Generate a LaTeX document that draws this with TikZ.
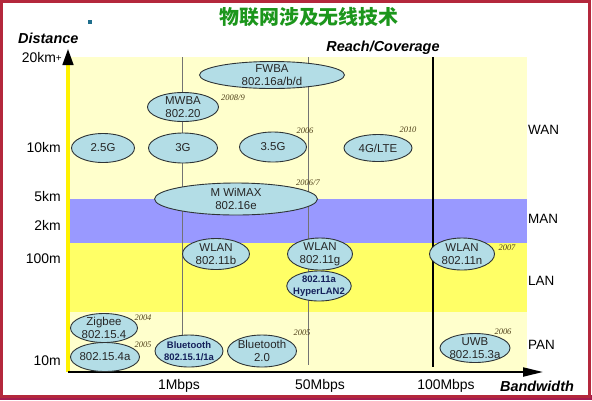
\documentclass[tikz,border=0pt]{standalone}
\usepackage{fontspec}
\setmainfont{Liberation Sans}
\newfontfamily\cjkfont{Noto Sans CJK SC}
\newfontfamily\yearfont{Liberation Serif}
\usepackage{tikz}
\usetikzlibrary{arrows.meta,shapes.geometric}
\definecolor{wanyel}{HTML}{FFFFCC}
\definecolor{manblue}{HTML}{9999FF}
\definecolor{lanyel}{HTML}{FFFF66}
\definecolor{ovalfill}{HTML}{B3DDE6}
\definecolor{ovaldraw}{HTML}{2E3436}
\definecolor{titlegreen}{HTML}{1C961C}
\definecolor{yearbrown}{HTML}{4E3F18}
\definecolor{framered}{HTML}{B4283C}
\definecolor{bulletblue}{HTML}{1F6E8C}
\definecolor{btnavy}{HTML}{14205A}
\tikzset{
	tech/.style={draw=ovaldraw, ellipse, fill=ovalfill, line width=0.9pt, inner sep=-3pt,
		align=center, text=black!85, font=\fontsize{11.5}{13.5}\selectfont},
	techbf/.style={tech, text=btnavy, font=\bfseries\fontsize{9.5}{11.5}\selectfont},
	yr/.style={inner sep=0pt, text=yearbrown, font=\yearfont\itshape\fontsize{8.5}{9}\selectfont},
	dist/.style={anchor=east, inner sep=0pt, font=\fontsize{14}{14}\selectfont},
	zone/.style={anchor=west, inner sep=0pt, font=\fontsize{13.5}{14}\selectfont},
	rate/.style={inner sep=0pt, font=\fontsize{14}{14}\selectfont},
	axttl/.style={inner sep=0pt, font=\bfseries\itshape\fontsize{14.5}{15}\selectfont},
	rateline/.style={draw=black!55, line width=0.8pt},
}

\begin{document}
\begin{tikzpicture}[x=1bp, y=-1bp]
	\useasboundingbox (0,0) rectangle (592,400);
	% slide frame
	\fill[white] (0,0) rectangle (592,400);
	\fill[framered!70!violet] (0,395) rectangle (592,400);
	\draw[framered, line width=3bp] (1.5,1.5) rectangle (589.5,396);
	\node[fill=bulletblue, minimum size=4bp, inner sep=0pt] at (90,22) (dot) {};
	\node[font=\cjkfont\bfseries\fontsize{20}{20}\selectfont, text=titlegreen] at (309,17) (title) {物联网涉及无线技术};
	% coverage bands
	\fill[wanyel] (68,57) rectangle (527,199);
	\fill[manblue] (68,199) rectangle (527,243);
	\fill[lanyel] (68,243) rectangle (527,312);
	\fill[wanyel] (68,312) rectangle (527,372);
	% axes
	\coordinate (O) at (68,372);
	\coordinate (ytip) at (68,48);
	\coordinate (xtip) at (543,372);
	\draw[line width=4bp, draw=yellow, -{Triangle[length=17bp, width=10bp, color=black]}] (O) -- (ytip);
	\draw[line width=2bp, -{Triangle[length=20bp, width=9bp]}] (O) -- (xtip);
	% bandwidth lines
	\coordinate (m1top) at (182,57);
	\coordinate (m1end) at (182,340);
	\coordinate (m50top) at (308,57);
	\coordinate (m50end) at (308,365);
	\coordinate (m100top) at (433,57);
	\coordinate (m100end) at (433,367);
	\draw[rateline] (m1top) -- (m1end);
	\draw[rateline] (m50top) -- (m50end);
	\draw[line width=1.5bp] (m100top) -- (m100end);
	% axis titles
	\node[axttl, anchor=west] at (18,38) (ydist) {Distance};
	\node[axttl] at (383,48) (reach) {Reach/Coverage};
	\node[axttl] at (537,386) (bw) {Bandwidth};
	% distance labels
	\node[dist] at (62,58) (d20) {20km\raisebox{1bp}{\fontsize{10}{10}\selectfont+}};
	\node[dist] at (61,148) (d10) {10km};
	\node[dist] at (61,197) (d5) {5km};
	\node[dist] at (61,225) (d2) {2km};
	\node[dist] at (61,259) (d100m) {100m};
	\node[dist] at (61,361) (d10m) {10m};
	% network classes
	\node[zone] at (528,130) (wan) {WAN};
	\node[zone] at (528,219) (man) {MAN};
	\node[zone] at (528,281) (lan) {LAN};
	\node[zone] at (528,345) (pan) {PAN};
	% rates
	\node[rate] at (179,386) (r1) {1Mbps};
	\node[rate] at (320,386) (r50) {50Mbps};
	\node[rate] at (446,386) (r100) {100Mbps};
	% technologies
	\node[tech, minimum width=145bp, minimum height=27bp] at (272,75) (fwba) {FWBA\\802.16a/b/d};
	\node[tech, minimum width=71bp, minimum height=29bp] at (183,107) (mwba) {MWBA\\802.20};
	\node[tech, minimum width=63bp, minimum height=29bp] at (103,148) (g25) {2.5G};
	\node[tech, minimum width=69bp, minimum height=30bp] at (183,148) (g3) {3G};
	\node[tech, minimum width=67bp, minimum height=30bp] at (273,147) (g35) {3.5G};
	\node[tech, minimum width=68bp, minimum height=27bp] at (378,148) (lte) {4G/LTE};
	\node[tech, minimum width=163bp, minimum height=32bp] at (236,199) (wimax) {M WiMAX\\802.16e};
	\node[tech, minimum width=67bp, minimum height=31bp] at (216,254) (wlanb) {WLAN\\802.11b};
	\node[tech, minimum width=65bp, minimum height=32bp] at (320,254) (wlang) {WLAN\\802.11g};
	\node[techbf, minimum width=63bp, minimum height=30bp] at (319,286) (hiper) {802.11a\\HyperLAN2};
	\node[tech, minimum width=65bp, minimum height=32bp] at (462,254) (wlann) {WLAN\\802.11n};
	\node[tech, minimum width=67bp, minimum height=29bp] at (104,328) (zigbee) {Zigbee\\802.15.4};
	\node[tech, minimum width=69bp, minimum height=29bp] at (105,357) (zig4a) {802.15.4a};
	\node[techbf, minimum width=68bp, minimum height=32bp] at (189,351) (bt1) {Bluetooth\\802.15.1/1a};
	\node[tech, minimum width=69bp, minimum height=32bp] at (262,351) (bt2) {Bluetooth\\2.0};
	\node[tech, minimum width=70bp, minimum height=29bp] at (475,348) (uwb) {UWB\\802.15.3a};
	% years
	\node[yr] at (233,98) (y2008) {2008/9};
	\node[yr] at (305,131) (y2006a) {2006};
	\node[yr] at (408,130) (y2010) {2010};
	\node[yr] at (308,183) (y2006b) {2006/7};
	\node[yr] at (507,248) (y2007) {2007};
	\node[yr] at (143,318) (y2004) {2004};
	\node[yr] at (143,345) (y2005a) {2005};
	\node[yr] at (302,333) (y2005b) {2005};
	\node[yr] at (503,332) (y2006c) {2006};
\end{tikzpicture}
\end{document}
